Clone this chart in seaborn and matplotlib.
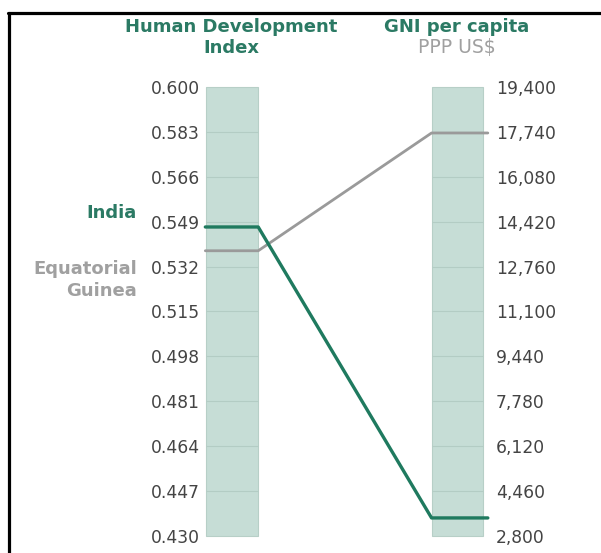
import numpy as np
import pandas as pd
import matplotlib
matplotlib.use("Agg")
import matplotlib.pyplot as plt
from matplotlib.lines import Line2D
import seaborn as sns

# ---- data ----
countries = ["India", "Equatorial Guinea"]
hdi_values = [0.547, 0.538]
gni_values = [3468, 17700]
hdi_ticks = [0.600, 0.583, 0.566, 0.549, 0.532, 0.515, 0.498, 0.481, 0.464, 0.447, 0.430]
gni_ticks = [19400, 17740, 16080, 14420, 12760, 11100, 9440, 7780, 6120, 4460, 2800]
hdi_labels = ["0.600", "0.583", "0.566", "0.549", "0.532", "0.515", "0.498", "0.481", "0.464", "0.447", "0.430"]
gni_labels = ["19,400", "17,740", "16,080", "14,420", "12,760", "11,100", "9,440", "7,780", "6,120", "4,460", "2,800"]

sns.set_style("white")
plt.rcParams["font.family"] = ["DejaVu Sans"]

GREEN = "#1f7a5f"
GREEN_T = "#2b7a64"
GRAY = "#9a9a9a"
GRAY_T = "#a0a0a0"
BAR = "#c6ddd6"
GRID = "#b3ccc4"
TICK = "#444444"

W, H = 601, 553
fig = plt.figure(figsize=(W / 100, H / 100), dpi=100)

def fx(px):
    return px / W

def fy(py):
    return 1 - py / H

ax = fig.add_axes([fx(206), fy(536), fx(484) - fx(206), fy(87) - fy(536)])
hmin, hmax = min(hdi_ticks), max(hdi_ticks)
gmin, gmax = min(gni_ticks), max(gni_ticks)
ax.set_ylim(hmin, hmax)
bw = 0.23
ax.set_xlim(-bw / 2 - 0.002, 1 + bw / 2 + 0.003)

# columns
ax.bar([0, 1], [hmax - hmin] * 2, bottom=hmin, width=bw, color=BAR, edgecolor="#b7cfc7",
       linewidth=0.8, zorder=1, clip_on=False)
for xc in (0, 1):
    ax.hlines(hdi_ticks[1:-1], xc - bw / 2, xc + bw / 2, color=GRID, lw=0.8, zorder=2)

# map GNI into HDI axis scale
def g2h(g):
    return hmin + (g - gmin) / (gmax - gmin) * (hmax - hmin)

rows = []
xs = [-0.12, bw / 2, 1 - bw / 2, 1.135]
for c, h, g in zip(countries, hdi_values, gni_values):
    ys = [h, h, g2h(g), g2h(g)]
    for i, (xv, yv) in enumerate(zip(xs, ys)):
        rows.append({"country": c, "x": xv, "y": yv, "order": i})
df = pd.DataFrame(rows)
sns.lineplot(data=df[df.country == "Equatorial Guinea"], x="x", y="y", sort=False,
             color=GRAY, lw=2.0, ax=ax, zorder=3, legend=False).lines[-1].set_clip_on(False)
sns.lineplot(data=df[df.country == "India"], x="x", y="y", sort=False,
             color=GREEN, lw=2.4, ax=ax, zorder=4, legend=False).lines[-1].set_clip_on(False)
ax.set_xlabel("")
ax.set_ylabel("")
ax.set_xticks([])

for s in ax.spines.values():
    s.set_visible(False)
ax.set_yticks(hdi_ticks)
ax.set_yticklabels(hdi_labels)
ax.tick_params(axis="y", length=0, pad=4.5, labelsize=12.3, labelcolor=TICK)

ax2 = ax.twinx()
ax2.set_ylim(gmin, gmax)
ax2.set_yticks(gni_ticks)
ax2.set_yticklabels(gni_labels)
ax2.tick_params(axis="y", length=0, pad=8.5, labelsize=12.3, labelcolor=TICK)
for s in ax2.spines.values():
    s.set_visible(False)

# headers
fig.text(fx(231), fy(27), "Human Development", ha="center", va="center", fontsize=13,
         fontweight="bold", color=GREEN_T)
fig.text(fx(231), fy(48), "Index", ha="center", va="center", fontsize=13,
         fontweight="bold", color=GREEN_T)
fig.text(fx(457), fy(27), "GNI per capita", ha="center", va="center", fontsize=13,
         fontweight="bold", color=GREEN_T)
fig.text(fx(457), fy(48), "PPP US$", ha="center", va="center", fontsize=13.5,
         color=GRAY_T)

# country labels
fig.text(fx(137), fy(213), "India", ha="right", va="center", fontsize=13,
         fontweight="bold", color=GREEN_T)
fig.text(fx(137), fy(269), "Equatorial", ha="right", va="center", fontsize=13,
         fontweight="bold", color=GRAY_T)
fig.text(fx(137), fy(291), "Guinea", ha="right", va="center", fontsize=13,
         fontweight="bold", color=GRAY_T)

# frame
fig.add_artist(Line2D([fx(8.5), fx(8.5)], [0, fy(12.5)], transform=fig.transFigure, color="black", lw=2.3))
fig.add_artist(Line2D([fx(7.5), 1], [fy(12.5), fy(12.5)], transform=fig.transFigure, color="black", lw=2.3))

fig.savefig("out.png", dpi=100)
